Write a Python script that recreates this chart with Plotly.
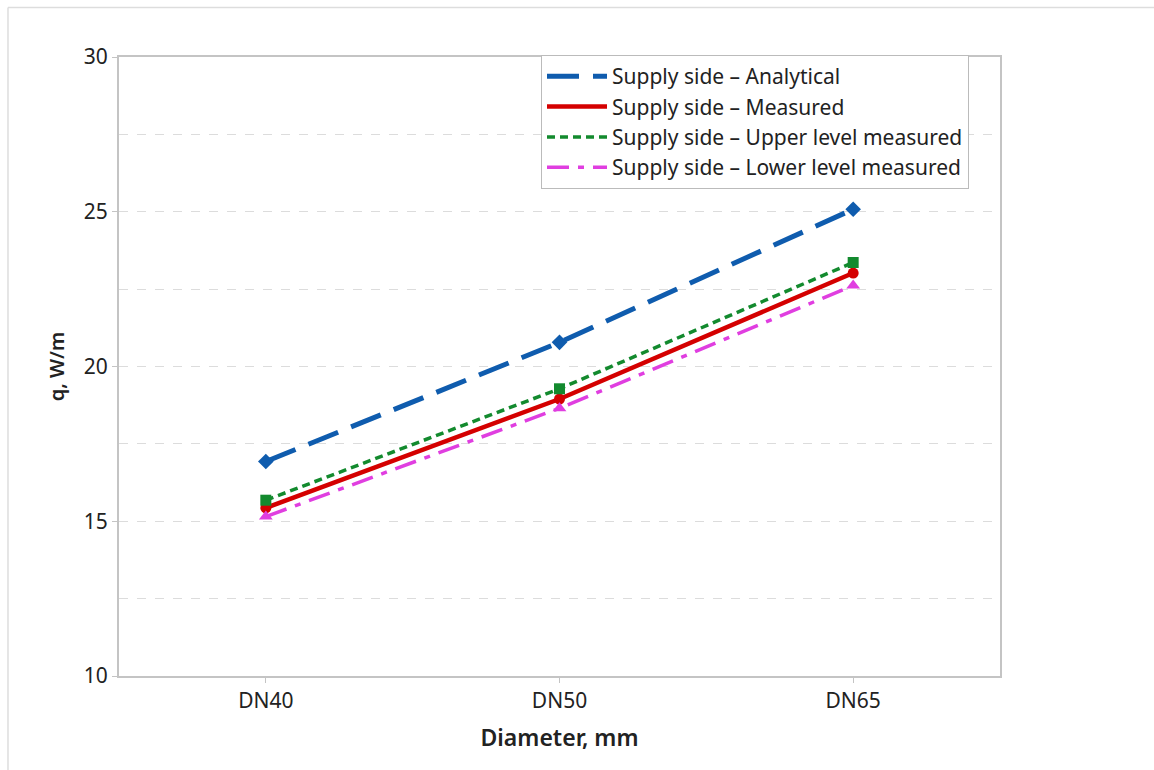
import plotly.graph_objects as go

categories = ["DN40", "DN50", "DN65"]
analytical = [16.93, 20.78, 25.08]
measured = [15.43, 18.95, 23.02]
upper = [15.68, 19.28, 23.36]
lower = [15.15, 18.65, 22.62]

series_names = [
    "Supply side – Analytical",
    "Supply side – Measured",
    "Supply side – Upper level measured",
    "Supply side – Lower level measured",
]

styles = [
    dict(color="#0f5cae", width=5, dash="32px,14px", symbol="diamond", size=12),
    dict(color="#d40000", width=4.5, dash="solid", symbol="circle", size=11),
    dict(color="#138a2e", width=3.5, dash="8px,5px", symbol="square", size=11),
    dict(color="#e03ee0", width=3.5, dash="22px,9px,6px,9px", symbol="triangle-up", size=12),
]

fig = go.Figure()
for name, values, st in zip(series_names, [analytical, measured, upper, lower], styles):
    fig.add_trace(go.Scatter(
        x=categories, y=values, name=name, mode="lines+markers", showlegend=False,
        line=dict(color=st["color"], width=st["width"], dash=st["dash"]),
        marker=dict(symbol=st["symbol"], size=st["size"], color=st["color"])))
# legend entries (lines only, as in the reference)
for name, st in zip(series_names, styles):
    fig.add_trace(go.Scatter(
        x=[categories[0]], y=[None], name=name, mode="lines", showlegend=True,
        line=dict(color=st["color"], width=st["width"], dash=st["dash"])))

font_family = "Noto Sans, Open Sans, sans-serif"

fig.update_layout(
    width=1154, height=770,
    margin=dict(l=119, r=154, t=57, b=94),
    paper_bgcolor="white", plot_bgcolor="white",
    font=dict(family=font_family, color="#222222", size=20),
    showlegend=True,
    legend=dict(
        x=0.479, xanchor="left", y=1.003, yanchor="top",
        bgcolor="white", bordercolor="#bbbbbb", borderwidth=1,
        font=dict(size=21, color="#222222"),
        tracegroupgap=0, itemwidth=60,
    ),
    xaxis=dict(
        type="category", range=[-0.5, 2.5],
        showline=True, linecolor="#c4c4c4", linewidth=2, mirror=True,
        ticks="outside", ticklen=5, tickcolor="#c4c4c4",
        showgrid=False, zeroline=False,
        tickfont=dict(size=21, color="#222222"),
        title=dict(text="Diameter, mm", font=dict(size=23, color="#222222", weight=600), standoff=17),
    ),
    yaxis=dict(
        range=[10, 30], tickvals=[10, 15, 20, 25, 30],
        showline=True, linecolor="#c4c4c4", linewidth=2, mirror=True,
        ticks="outside", ticklen=5, tickcolor="#c4c4c4",
        showgrid=True, gridcolor="#dcdcdc", griddash="dash", gridwidth=1,
        minor=dict(dtick=2.5, tick0=10, showgrid=True, gridcolor="#dcdcdc", griddash="dash", ticks=""),
        zeroline=False,
        tickfont=dict(size=21, color="#222222"),
        title=dict(text="q, W/m", font=dict(size=20, color="#222222", weight=600), standoff=14),
    ),
    shapes=[
        dict(type="line", xref="paper", yref="paper", x0=-0.126, x1=1.2, y0=1.08, y1=1.08,
             line=dict(color="#dddddd", width=1.5)),
        dict(type="line", xref="paper", yref="paper", x0=-0.126, x1=-0.126, y0=1.08, y1=-0.2,
             line=dict(color="#dddddd", width=1.5)),
    ],
)

fig.write_html("out.html")
